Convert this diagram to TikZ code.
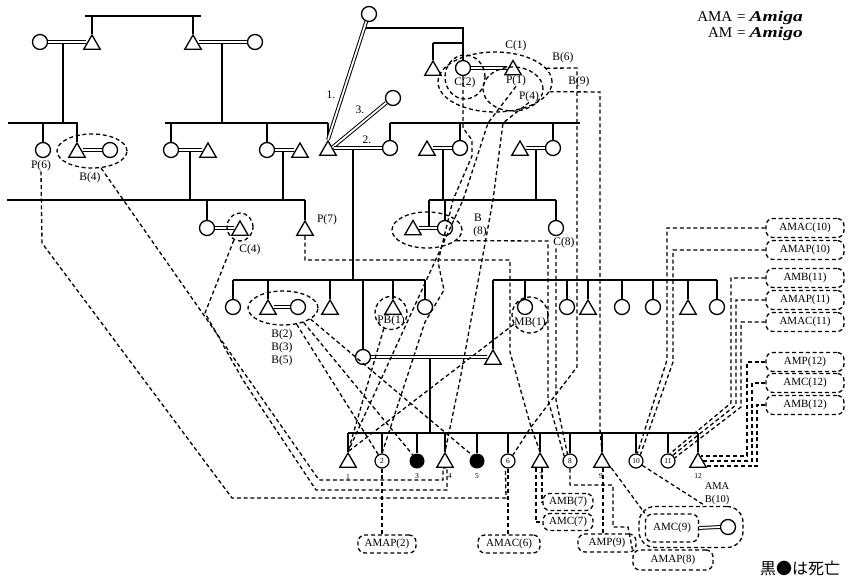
\documentclass[tikz,border=0pt]{standalone}
\usepackage{fontspec}
\usepackage{graphicx}
\setmainfont{Liberation Serif}
\newfontfamily\cjk{Noto Sans CJK JP}
\usetikzlibrary{shapes.geometric,calc}
\begin{document}
\begin{tikzpicture}[x=1pt,y=-1pt,
  sol/.style={line width=1.3pt},
  dsh/.style={line width=1.3pt, dash pattern=on 4pt off 2.8pt},
  circ/.style={circle, draw, line width=1.3pt, minimum size=15pt, inner sep=0pt},
  ncirc/.style={circle, draw, line width=1.2pt, minimum size=14pt, inner sep=0pt, font=\fontsize{7.5}{7.5}\selectfont},
  dead/.style={circle, fill, minimum size=15pt, inner sep=0pt},
  tri/.style={regular polygon, regular polygon sides=3, draw, line width=1.3pt, minimum size=19pt, inner sep=0pt},
  marr/.style={double, double distance=1.8pt, line width=1pt},
  lab/.style={font=\fontsize{11.5}{12}\selectfont, inner sep=0pt},
  num/.style={font=\fontsize{7.5}{7.5}\selectfont, inner sep=0pt},
  lbox/.style={draw, dsh, rounded corners=7pt, font=\fontsize{11}{12}\selectfont, minimum height=19pt, inner sep=2pt},
  dring/.style={draw, dsh, ellipse, inner sep=0pt},
]
\useasboundingbox (0,0) rectangle (852,581);

% ---------- generation 1
\node[circ] (c11) at (40,42) {};
\node[tri] (t12) at (92,44.5) {};
\node[tri] (t13) at (193,44.5) {};
\node[circ] (c14) at (255,42) {};
\draw[sol] (85,16) -- (201,16);
\draw[sol] (92,16) -- (t12.north);
\draw[sol] (193,16) -- (t13.north);
\draw[marr] (c11.east) -- (c11.east -| t12.west);
\draw[marr] (t13.east |- c14.west) -- (c14.west);
\draw[sol] (63,43) -- (63,123);
\draw[sol] (222,43) -- (222,123);

% ---------- generation 2 left
\draw[sol] (8,123) -- (78,123);
\node[circ] (c21) at (43,150) {};
\node[tri] (t22) at (77,152.5) {};
\node[circ] (c23) at (110,150) {};
\draw[sol] (43,123) -- (c21.north);
\draw[sol] (77,123) -- (t22.north);
\draw[marr] (t22.east |- c23.west) -- (c23.west);
\node[dring, minimum width=70pt, minimum height=34pt] (eB4) at (92,151) {};
\node[lab] (lP6) at (41,166) {P(6)};
\node[lab] (lB4) at (90,178) {B(4)};

% ---------- generation 2 right
\draw[sol] (165,123) -- (328,123);
\node[circ] (c24) at (171,150) {};
\node[tri] (t25) at (208,152.5) {};
\node[circ] (c26) at (267,150) {};
\node[tri] (t27) at (300,152.5) {};
\node[tri] (tE) at (328,150.5) {};
\draw[sol] (171,123) -- (c24.north);
\draw[sol] (267,123) -- (c26.north);
\draw[sol] (328,123) -- (tE.north);
\draw[marr] (c24.east) -- (c24.east -| t25.west);
\draw[marr] (c26.east) -- (c26.east -| t27.west);
\draw[sol] (190,151) -- (190,200);
\draw[sol] (283,151) -- (283,200);

% ego's wives
\node[circ] (w1) at (369,14) {};
\node[circ] (w3) at (393,98) {};
\node[circ] (w2) at (390,148) {};
\draw[marr] (tE.north) -- (w1.250);
\draw[marr] (tE.35) -- (w3.215);
\draw[marr] (tE.east |- w2.west) -- (w2.west);
\node[lab] (n1) at (331,95) {1.};
\node[lab] (n3) at (360,110) {3.};
\node[lab] (n2) at (367,140) {2.};
\draw[sol] (353,149) -- (353,280);

% ---------- top right family
\node[tri] (t31) at (433,70.5) {};
\node[circ] (c32) at (463,68) {};
\node[tri] (t33) at (513,70) {};
\draw[sol] (366,28) -- (463,28) -- (c32.north);
\draw[sol] (433,43) -- (463,43);
\draw[sol] (433,43) -- (t31.north);
\draw[marr] (c32.east) -- (c32.east -| t33.west);
\node[dring, minimum width=114pt, minimum height=60pt] (eC1) at (495,82) {};
\node[dring, minimum width=40pt, minimum height=44pt] (eC2) at (465,77) {};
\node[dring, minimum width=60pt, minimum height=44pt] (eP4) at (513,89) {};
\node[lab] (lC1) at (516,46) {C(1)};
\node[lab] (lC2) at (465,83) {C(2)};
\node[lab] (lP1) at (516,81) {P(1)};
\node[lab] (lP4) at (529,97) {P(4)};
\node[lab] (lB6) at (563,58) {B(6)};
\node[lab] (lB9) at (579,82) {B(9)};

% third family line
\draw[sol] (390,123) -- (580,123);
\node[tri] (t34) at (427,150.5) {};
\node[circ] (c35) at (460,148) {};
\node[tri] (t36) at (520,150.5) {};
\node[circ] (c37) at (553,148) {};
\draw[sol] (390,123) -- (w2.north);
\draw[sol] (460,123) -- (c35.north);
\draw[sol] (553,123) -- (c37.north);
\draw[marr] (t34.east |- c35.west) -- (c35.west);
\draw[marr] (t36.east |- c37.west) -- (c37.west);
\draw[sol] (443,149) -- (443,200);
\draw[sol] (536,149) -- (536,200);

% ---------- generation 3
\draw[sol] (7,200) -- (305,200);
\node[circ] (c41) at (207,228) {};
\node[tri] (t42) at (240,230.5) {};
\node[tri] (t43) at (305,230.5) {};
\draw[sol] (207,200) -- (c41.north);
\draw[sol] (305,200) -- (t43.north);
\draw[marr] (c41.east) -- (c41.east -| t42.west);
\node[dring, minimum width=26pt, minimum height=28pt] (eC4) at (240,227) {};
\node[lab] (lC4) at (250,250) {C(4)};
\node[lab] (lP7) at (327,220) {P(7)};

\draw[sol] (429,200) -- (556,200);
\node[tri] (t44) at (413,230) {};
\node[circ] (c45) at (445,228) {};
\node[circ] (c46) at (556,228) {};
\draw[marr] (t44.east |- c45.west) -- (c45.west);
\draw[sol] (429,200) -- (429,227);
\draw[sol] (445,200) -- (c45.north);
\draw[sol] (556,200) -- (c46.north);
\node[dring, minimum width=70pt, minimum height=36pt] (eB8) at (427,230) {};
\node[lab] (lB8a) at (478,218) {B};
\node[lab] (lB8b) at (480,232) {(8)};
\node[lab] (lC8) at (564,243) {C(8)};

% ---------- generation 4 left
\draw[sol] (233,280) -- (425,280);
\node[circ] (c51) at (233,307) {};
\node[tri] (t52) at (268,309.5) {};
\node[circ] (c53) at (298,307) {};
\node[tri] (t54) at (330,309.5) {};
\node[circ] (c56) at (363,357) {};
\node[tri] (t57) at (393,309.5) {};
\node[circ] (c58) at (425,307) {};
\draw[sol] (233,280) -- (c51.north);
\draw[sol] (268,280) -- (t52.north);
\draw[sol] (330,280) -- (t54.north);
\draw[sol] (363,280) -- (c56.north);
\draw[sol] (393,280) -- (t57.north);
\draw[sol] (425,280) -- (c58.north);
\draw[marr] (t52.east |- c53.west) -- (c53.west);
\node[dring, minimum width=70pt, minimum height=34pt] (eB) at (283,308) {};
\node[dring, minimum width=32pt, minimum height=33pt] (ePB) at (391,313) {};
\node[lab] (lB2) at (282,335) {B(2)};
\node[lab] (lB3) at (282,348) {B(3)};
\node[lab] (lB5) at (282,361) {B(5)};
\node[lab] (lPB1) at (391,321) {PB(1)};

% ---------- generation 4 right
\draw[sol] (493,280) -- (717,280);
\node[circ] (c61) at (525,307) {};
\node[circ] (c62) at (567,307) {};
\node[tri] (t63) at (588,309.5) {};
\node[circ] (c64) at (622,307) {};
\node[circ] (c65) at (653,307) {};
\node[tri] (t66) at (688,309.5) {};
\node[circ] (c67) at (717,307) {};
\node[tri] (t68) at (493,359.5) {};
\foreach \n/\xx in {c61/525,c62/567,t63/588,c64/622,c65/653,t66/688,c67/717}
  \draw[sol] (\xx,280) -- (\n.north);
\draw[sol] (493,280) -- (t68.north);
\node[dring, minimum width=36pt, minimum height=36pt] (eMB) at (530,315) {};
\node[lab] (lMB1) at (530,323) {MB(1)};
\draw[marr] (c56.east) -- (c56.east -| t68.west);
\draw[sol] (430,358) -- (430,433);

% ---------- generation 5
\draw[sol] (348,433) -- (698,433);
\node[tri] (t1) at (348,462.5) {};
\node[ncirc] (c2) at (382,461) {2};
\node[dead] (d3) at (417,461) {};
\node[tri] (t4) at (445,462.5) {};
\node[dead] (d5) at (477,461) {};
\node[ncirc] (c6) at (508,461) {6};
\node[tri] (t7) at (540,462.5) {};
\node[ncirc] (c8) at (570,461) {8};
\node[tri] (t9) at (602,462.5) {};
\node[ncirc] (c10) at (636,461) {10};
\node[ncirc] (c11b) at (668,461) {11};
\node[tri] (t12b) at (698,462.5) {};
\foreach \n/\xx in {t1/348,c2/382,d3/417,t4/445,d5/477,c6/508,t7/540,c8/570,t9/602,c10/636,c11b/668,t12b/698}
  \draw[sol] (\xx,433) -- (\n.north);
\node[num] (k1) at (348,477) {1};
\node[num] (k3) at (417,476) {3};
\node[num] (k4) at (450,476) {4};
\node[num] (k5) at (477,476) {5};
\node[num] (k7) at (541,475) {7};
\node[num] (k9) at (601,476) {9};
\node[num] (k12) at (698,476) {12};

% ---------- boxes
\node[lbox, minimum width=78pt] (bAMAC10) at (805,228) {AMAC(10)};
\node[lbox, minimum width=78pt] (bAMAP10) at (805,250) {AMAP(10)};
\node[lbox, minimum width=78pt] (bAMB11) at (805,278) {AMB(11)};
\node[lbox, minimum width=78pt] (bAMAP11) at (805,300) {AMAP(11)};
\node[lbox, minimum width=78pt] (bAMAC11) at (805,322) {AMAC(11)};
\node[lbox, minimum width=78pt] (bAMP12) at (805,362) {AMP(12)};
\node[lbox, minimum width=78pt] (bAMC12) at (805,383) {AMC(12)};
\node[lbox, minimum width=78pt] (bAMB12) at (805,405) {AMB(12)};

\node[lbox, minimum width=58pt, minimum height=18pt] (bAMAP2) at (387,544) {AMAP(2)};
\node[lbox, minimum width=62pt, minimum height=18pt] (bAMAC6) at (509,544) {AMAC(6)};
\node[lbox, minimum width=50pt, minimum height=17pt] (bAMB7) at (568,502) {AMB(7)};
\node[lbox, minimum width=50pt, minimum height=17pt] (bAMC7) at (568,522) {AMC(7)};
\node[lbox, minimum width=58pt, minimum height=18pt] (bAMP9) at (607,543) {AMP(9)};
\node[lbox, minimum width=53pt, minimum height=28pt] (bAMC9) at (672,528) {AMC(9)};
\node[circ] (cAMA) at (728,527) {};
\draw[marr] (bAMC9.east) -- (cAMA.west);
\node[draw, dsh, rounded corners=16pt, minimum width=104pt, minimum height=41pt] (oAMC9) at (691,527) {};
\node[lbox, minimum width=80pt, minimum height=20pt] (bAMAP8) at (673,560) {AMAP(8)};
\node[lab, align=center, font=\fontsize{10.5}{13}\selectfont] (lAMAB) at (717,494) {AMA\\B(10)};

% ---------- dashed links
\draw[dsh] (lP6.south) -- (42,243) -- (232,498) -- (506,498) -- (c6.250);
\draw[dsh] (eB4.-62) -- (319,480) -- (443,480) |- (t4.south);
\draw[dsh] (eC4.245) -- (205,313) -- (243,380) -- (316,490) -- (447,490) |- (t4.south);
\draw[dsh] (eB.-50) -- (c2.120);
\draw[dsh] (eB.-35) -- (d3.125);
\draw[dsh] (eB.-22) -- (d5.130);
\draw[dsh] (ePB.-115) -- (t1.north);
\draw[dsh] (eMB.-150) -- (t1.north);
\draw[dsh] (lP1.south) -- (488,123) -- (463,200) -- (t1.north);
\draw[dsh] (lP4.south) -- (503,123) -- (493,200) -- (460,380) -- (t4.north);
\draw[dsh] (c32.south) -- (463,128) -- (472,140) -- (472,156) -- (453,200) -- (438,262) -- (444,290) -- (425,322) -- (c2.north);
\draw[dsh] (eC1.15) -- (577,68) -- (577,367) -- (531,427) -- (c6.50);
\draw[dsh] (eC1.-10) -- (600,92) -- (600,430) -- (t9.north);
\draw[dsh] (t43.south) -- (305,260) -- (510,260) -- (510,352) -- (531,427) -- (t7.north);
\draw[dsh] (eB8.-20) -- (548,241) -- (548,400) -- (c8.140);
\draw[dsh] (lC8.south -| c46.south) -- (556,400) -- (c8.110);
\draw[dsh] ($(t7.south)+(2,0)$) |- (bAMB7.west);
\draw[dsh] ($(t7.south)+(-4,0)$) |- (bAMC7.west);
\draw[dsh] (c8.south) -- (570,485) -- (613,485) -- (613,527) -- (628,527) -- (bAMAP8.north west);
\draw[dsh] ($(t9.south)+(1,0)$) |- (bAMP9.north);
\draw[dsh] (t9.-30) -- (bAMC9.north west);
\draw[dsh] (c10.-35) -- (lAMAB.south west);
\draw[dsh] (c6.south) -- (c6.south |- bAMAC6.north);
\draw[dsh] (c2.south) -- (c2.south |- bAMAP2.north);
\draw[dsh] (bAMAC10.west) -| (667,360) -- (c10.80);
\draw[dsh] (bAMAP10.west) -| (673,362) -- (c10.55);
\draw[dsh] (bAMB11.west) -| (731,403) -- (c11b.75);
\draw[dsh] (bAMAP11.west) -| (736,405) -- (c11b.50);
\draw[dsh] (bAMAC11.west) -| (741,407) -- (c11b.25);
\draw[dsh] (bAMP12.west) -| (747,456) -- (701,456);
\draw[dsh] (bAMC12.west) -| (752,461) -- (703,461);
\draw[dsh] (bAMB12.west) -| (757,466) -- (706,466);

% ---------- legend and note
\node[anchor=east, inner sep=0pt, font=\fontsize{15}{15}\selectfont] (leg1) at (803,18) {AMA\hspace{5pt}=\hspace{4pt}\scalebox{1.3}[1]{\textbf{\textit{Amiga}}}};
\node[anchor=east, inner sep=0pt, font=\fontsize{15}{15}\selectfont] (leg2) at (803,34) {AM\hspace{5pt}=\hspace{4pt}\scalebox{1.3}[1]{\textbf{\textit{Amigo}}}};
\node[inner sep=0pt, font=\cjk\fontsize{16}{16}\selectfont] (note) at (800,568) {黒●は死亡};
\end{tikzpicture}
\end{document}
